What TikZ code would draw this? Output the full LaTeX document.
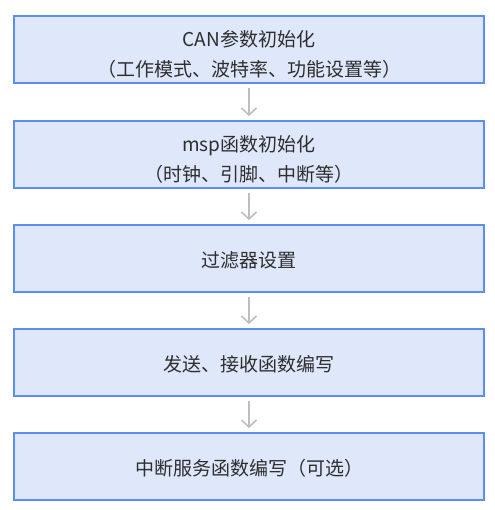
\documentclass[tikz,border=0pt]{standalone}
\usepackage{fontspec}
\setmainfont{Noto Sans CJK SC}
\usetikzlibrary{arrows.meta,calc}
\definecolor{boxfill}{HTML}{DFE7FB}
\definecolor{boxline}{HTML}{5B8EF5}
\definecolor{arrowgray}{HTML}{BDBDBD}
\definecolor{txt}{HTML}{2E2E2E}
\begin{document}
\begin{tikzpicture}[x=1pt,y=-1pt,
  stepbox/.style={draw=boxline, line width=2pt, fill=boxfill, minimum width=470pt, minimum height=67pt, inner sep=0pt},
  steptext/.style={inner sep=0pt, align=center, text=txt, font=\fontsize{19}{30}\selectfont},
  flow/.style={draw=arrowgray, line width=1.5pt, -{Straight Barb[length=7pt,width=15pt]}, shorten <=4pt, shorten >=4pt}]
\fill[white] (0,0) rectangle (494,510);
\useasboundingbox (0,0) rectangle (494,510);
\node[stepbox] (s1) at (249,49.5) {};
\node[stepbox] (s2) at (249,154.5) {};
\node[stepbox] (s3) at (249,258.5) {};
\node[stepbox] (s4) at (249,362.5) {};
\node[stepbox] (s5) at (249,466.5) {};
\node[steptext] (t1) at ($(s1.center)+(0,4.5)$) {CAN参数初始化\\（工作模式、波特率、功能设置等）};
\node[steptext] (t2) at ($(s2.center)+(0,4.5)$) {msp函数初始化\\（时钟、引脚、中断等）};
\node[steptext] (t3) at ($(s3.center)+(0,1.5)$) {过滤器设置};
\node[steptext] (t4) at ($(s4.center)+(0,1.5)$) {发送、接收函数编写};
\node[steptext] (t5) at ($(s5.center)+(0,1.5)$) {中断服务函数编写（可选）};
\draw[flow] (s1) -- (s2);
\draw[flow] (s2) -- (s3);
\draw[flow] (s3) -- (s4);
\draw[flow] (s4) -- (s5);
\end{tikzpicture}
\end{document}
